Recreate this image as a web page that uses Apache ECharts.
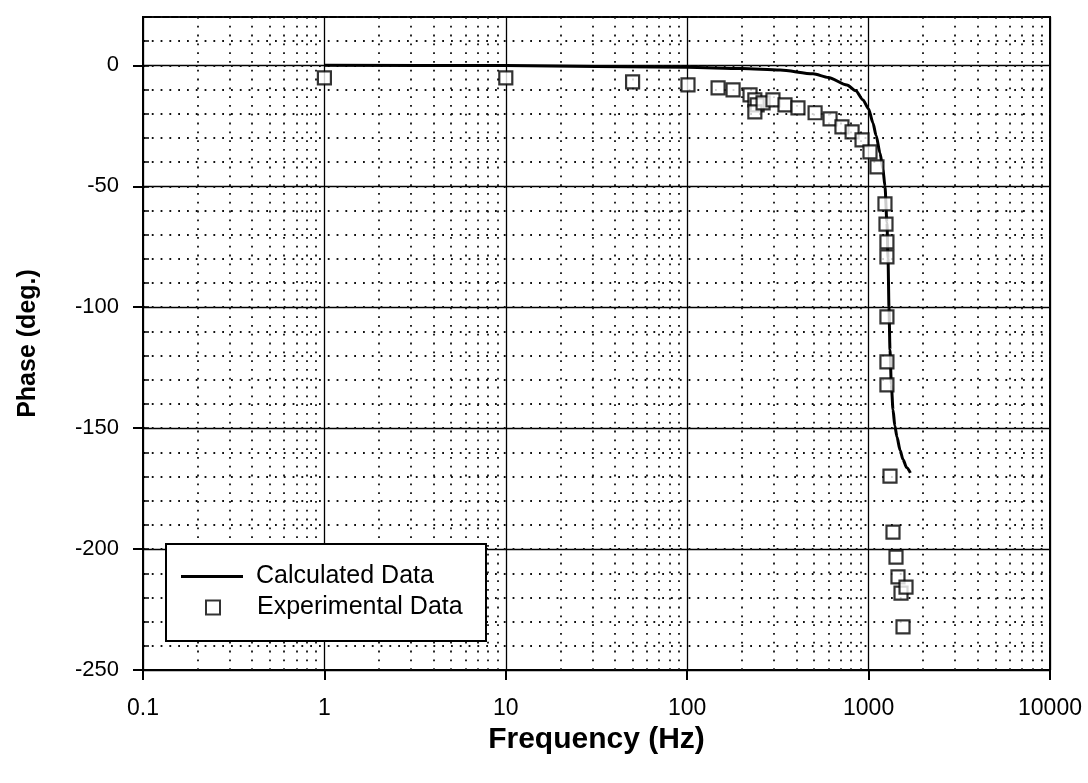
<!DOCTYPE html>
<html>
<head>
<meta charset="utf-8">
<script src="https://cdn.jsdelivr.net/npm/echarts@6/dist/echarts.min.js"></script>
<style>
html,body{margin:0;padding:0;background:#fff;}
#chart{width:1088px;height:783px;}
</style>
</head>
<body>
<div id="chart"></div>
<script>
// Calculated data (line)
const CALC_FREQ  = [1, 10, 100, 200, 325, 494, 600, 760, 850, 931, 1000, 1057, 1100, 1156, 1200, 1231, 1262, 1280, 1295, 1312, 1335, 1363, 1395, 1433, 1490, 1548, 1620, 1700];
const CALC_PHASE = [0, -0.1, -0.8, -1.3, -1.9, -3.5, -5, -8.1, -10.5, -14.3, -18, -23.8, -29, -36.2, -43, -50, -65, -80, -100, -117.6, -132, -142.4, -149, -153.6, -159, -163, -166.3, -168.5];
// Experimental data (squares)
const EXP_FREQ  = [1, 10, 50, 101, 148, 179, 222, 236, 243, 236, 262, 297, 346, 408, 507, 613, 713, 811, 920, 1018, 1112, 1231, 1247, 1262, 1262, 1262, 1262, 1262, 1312, 1363, 1416, 1452, 1509, 1608, 1548];
const EXP_PHASE = [-5.2, -5.2, -6.8, -8.1, -9.3, -10.1, -12.2, -14.3, -16.3, -19.2, -15.5, -14.3, -16.3, -17.6, -19.6, -22.1, -25.4, -27.5, -30.8, -35.8, -42.0, -57.3, -65.6, -73.0, -79.2, -104.0, -122.6, -132.1, -169.8, -193, -203.3, -211.5, -218.2, -215.7, -232.2];
// Axis settings
const X_DECADES = [0.1, 1, 10, 100, 1000];
const X_MINOR_MULT = [2, 3, 4, 5, 6, 7, 8, 9];
const Y_MAJOR_TICKS = [-250, -200, -150, -100, -50, 0];

const minorX = [];
X_DECADES.forEach(d => X_MINOR_MULT.forEach(m => minorX.push({ xAxis: +(d * m).toPrecision(3) })));

const calcData = CALC_FREQ.map((f, i) => [f, CALC_PHASE[i]]);
const expData = EXP_FREQ.map((f, i) => [f, EXP_PHASE[i]]);

const FONT = 'Liberation Sans, Arial, sans-serif';
const DOT = { color: '#111', width: 1.8, type: [1.8, 7] };
const chart = echarts.init(document.getElementById('chart'));
chart.setOption({
  animation: false,
  backgroundColor: '#fff',
  grid: { left: 143, right: 38, top: 17, bottom: 113, show: true, borderColor: '#000', borderWidth: 2, backgroundColor: 'transparent' },
  xAxis: {
    type: 'log', logBase: 10, min: 0.1, max: 10000,
    name: 'Frequency (Hz)', nameLocation: 'middle', nameGap: 55,
    nameTextStyle: { fontFamily: FONT, fontSize: 30, fontWeight: 'bold', color: '#000' },
    axisLine: { show: true, onZero: false, lineStyle: { color: '#000', width: 2 } },
    axisTick: { show: true, inside: false, length: 10, lineStyle: { color: '#000', width: 2 } },
    axisLabel: { fontFamily: FONT, fontSize: 23, color: '#000', margin: 27, formatter: v => String(v) },
    splitLine: { show: true, lineStyle: { color: '#000', width: 1.3 } },
    minorTick: { show: false }
  },
  yAxis: [{
    type: 'value', min: -250, max: 20, interval: 50,
    name: 'Phase (deg.)', nameLocation: 'middle', nameGap: 102,
    nameTextStyle: { fontFamily: FONT, fontSize: 25, fontWeight: 'bold', color: '#000' },
    axisLine: { show: true, lineStyle: { color: '#000', width: 2 } },
    axisTick: { show: true, inside: false, length: 10, lineStyle: { color: '#000', width: 2 }, customValues: Y_MAJOR_TICKS },
    axisLabel: { fontFamily: FONT, fontSize: 22, color: '#000', margin: 24, customValues: Y_MAJOR_TICKS, formatter: v => v > 0 ? '' : String(v) },
    splitLine: { show: true, lineStyle: { color: '#000', width: 1.3 } }
  }, {
    type: 'value', min: -250, max: 20, interval: 10, position: 'left',
    axisLine: { show: false },
    axisTick: { show: true, inside: true, length: 6, lineStyle: { color: '#000', width: 1.5 } },
    axisLabel: { show: false },
    splitLine: { show: true, lineStyle: DOT }
  }],
  legend: [{
    z: 120, left: 181, top: 564, orient: 'vertical', padding: 0,
    itemWidth: 62, itemHeight: 3, selectedMode: false,
    data: [{ name: 'Calculated Data', icon: 'rect' }],
    textStyle: { fontFamily: FONT, fontSize: 25, color: '#000', padding: [0, 0, 0, 8] }
  }, {
    z: 120, left: 205, top: 595, orient: 'vertical', padding: 0,
    itemWidth: 14, itemHeight: 14, selectedMode: false,
    data: [{ name: 'Experimental Data' }],
    textStyle: { fontFamily: FONT, fontSize: 25, color: '#000', padding: [0, 0, 0, 32] }
  }],
  graphic: {
    elements: [{
      type: 'rect', z: 100, left: 165, top: 543,
      shape: { width: 320, height: 97 },
      style: { fill: '#fff', stroke: '#000', lineWidth: 2 }
    }]
  },
  series: [{
    name: 'minor-grid', type: 'line', data: [], silent: true, z: 1,
    markLine: {
      silent: true, symbol: ['none', 'none'], label: { show: false },
      lineStyle: DOT, data: minorX, animation: false
    }
  }, {
    name: 'Calculated Data', type: 'line', data: calcData,
    showSymbol: false, symbol: 'none', smooth: 0.25, smoothMonotone: 'x', z: 5,
    lineStyle: { color: '#000', width: 3 },
    itemStyle: { color: '#000' }
  }, {
    name: 'Experimental Data', type: 'scatter', data: expData,
    symbol: 'rect', symbolSize: 13, z: 6,
    itemStyle: { color: '#fff', borderColor: '#000', borderWidth: 2.2 }
  }]
});
</script>
</body>
</html>
